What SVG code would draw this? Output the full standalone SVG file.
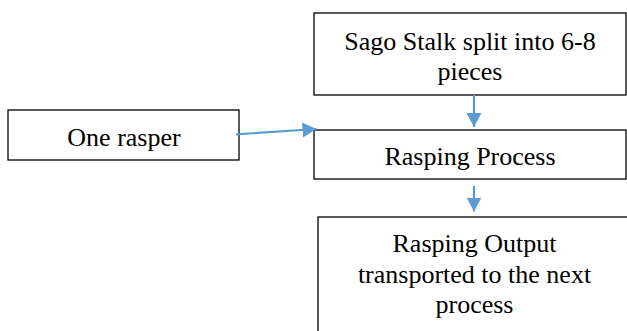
<svg xmlns="http://www.w3.org/2000/svg" width="627" height="331" viewBox="0 0 627 331">
<style>
.box{fill:#fff;stroke:#000;stroke-width:1.3}
.t{font-family:"Liberation Serif","Times New Roman",serif;font-size:26px;fill:#000;text-anchor:middle}
.c{stroke:#5B9BD5;stroke-width:2.2;fill:none}
</style>
<defs>
<marker id="ah" markerUnits="userSpaceOnUse" markerWidth="16" markerHeight="16" refX="14" refY="7.5" orient="auto">
<path d="M0,0 L14,7.5 L0,15 Z" fill="#5B9BD5"/>
</marker>
</defs>
<rect width="627" height="331" fill="#fff"/>
<g id="n1">
<rect class="box" x="314" y="13" width="312" height="82"/>
<text class="t" x="470" y="50">Sago Stalk split into 6-8</text>
<text class="t" x="470" y="80">pieces</text>
</g>
<g id="n2">
<rect class="box" x="8" y="110" width="231" height="50"/>
<text class="t" x="124" y="145.5">One rasper</text>
</g>
<g id="n3">
<rect class="box" x="314" y="130" width="312" height="49"/>
<text class="t" x="470" y="165">Rasping Process</text>
</g>
<g id="n4">
<rect class="box" x="318" y="217" width="320" height="130"/>
<text class="t" x="474.5" y="251.5">Rasping Output</text>
<text class="t" x="474.5" y="282.5">transported to the next</text>
<text class="t" x="474.5" y="313">process</text>
</g>
<g id="connectors">
<line class="c" x1="474" y1="95" x2="474" y2="127" marker-end="url(#ah)"/>
<line class="c" x1="236" y1="134.3" x2="316.5" y2="129" marker-end="url(#ah)"/>
<line class="c" x1="474" y1="186" x2="474" y2="211.5" marker-end="url(#ah)"/>
</g>
</svg>
